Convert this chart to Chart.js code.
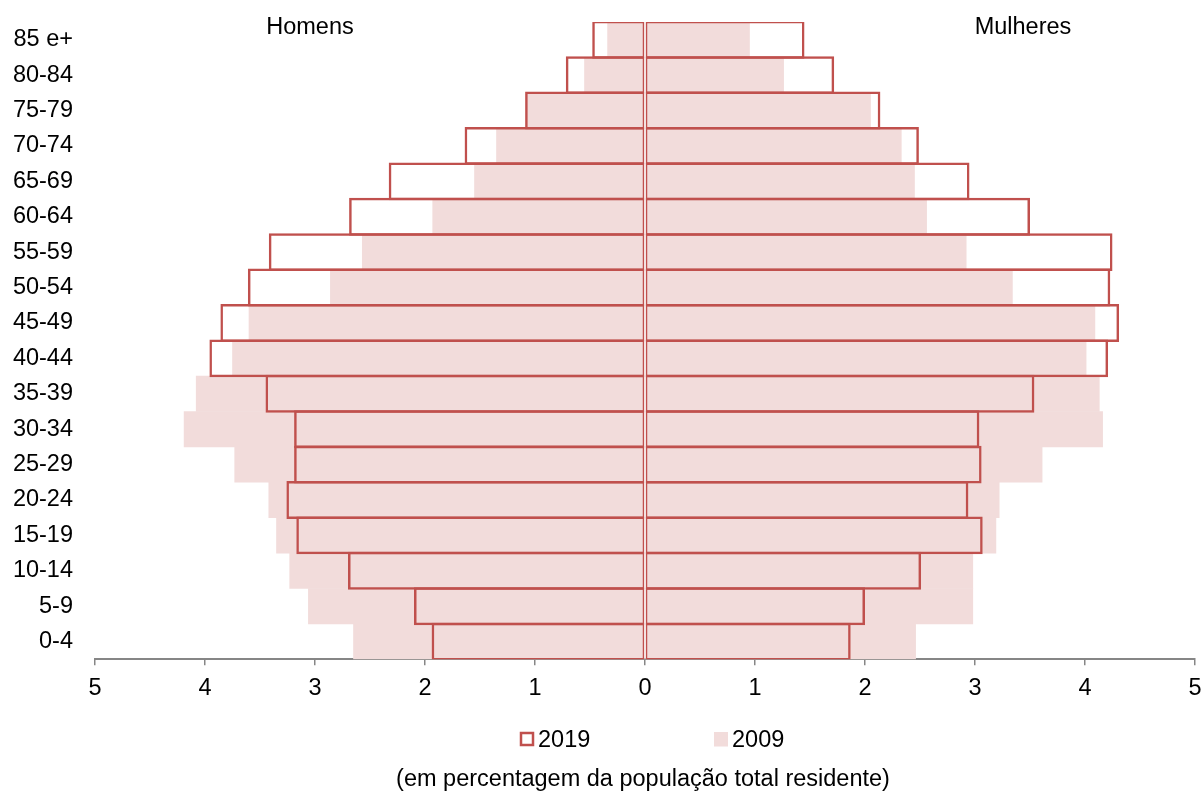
<!DOCTYPE html>
<html>
<head>
<meta charset="utf-8">
<script src="https://cdn.jsdelivr.net/npm/chart.js@4.4.0/dist/chart.umd.min.js"></script>
<style>
  body { margin: 0; background: #fff; }
  .wrap { width: 1203px; height: 791px; position: relative; }
</style>
</head>
<body>
<div class="wrap"><canvas id="pyramid"></canvas></div>
<script>
// age groups, top row first
const ageGroups = ["85 e+", "80-84", "75-79", "70-74", "65-69", "60-64", "55-59", "50-54", "45-49",
  "40-44", "35-39", "30-34", "25-29", "20-24", "15-19", "10-14", "5-9", "0-4"];

// % of total resident population
const men2019 = [0.48, 0.72, 1.09, 1.64, 2.33, 2.69, 3.42, 3.61, 3.86, 3.96, 3.45, 3.19, 3.19, 3.26, 3.17, 2.70, 2.10, 1.94];
const women2019 = [1.45, 1.72, 2.14, 2.49, 2.95, 3.50, 4.25, 4.23, 4.31, 4.21, 3.54, 3.04, 3.06, 2.94, 3.07, 2.51, 2.00, 1.87];
const men2009 = [0.34, 0.55, 1.08, 1.35, 1.55, 1.93, 2.57, 2.86, 3.60, 3.75, 4.08, 4.19, 3.73, 3.42, 3.35, 3.23, 3.06, 2.65];
const women2009 = [0.95, 1.26, 2.05, 2.33, 2.45, 2.56, 2.92, 3.34, 4.09, 4.01, 4.13, 4.16, 3.61, 3.22, 3.19, 2.98, 2.98, 2.46];

const sideLabels = ["Homens", "Mulheres"];
const legendLabels = ["2019", "2009"];
const caption = "(em percentagem da população total residente)";

const red = "#C0504D";
const pink = "#F2DCDB";
const fontFamily = "'Liberation Sans', Arial, sans-serif";
const fontSize = 23.5;

// side titles, legend and caption
const textPlugin = {
  id: "textPlugin",
  afterDraw(chart) {
    const ctx = chart.ctx;
    ctx.save();
    ctx.font = fontSize + "px " + fontFamily;
    ctx.fillStyle = "#000";
    ctx.textBaseline = "alphabetic";
    ctx.textAlign = "center";
    ctx.fillText(sideLabels[0], 310, 34);
    ctx.fillText(sideLabels[1], 1023, 34);

    ctx.textAlign = "left";
    ctx.lineWidth = 2.5;
    ctx.strokeStyle = red;
    ctx.strokeRect(521, 733, 12, 12);
    ctx.fillText(legendLabels[0], 538, 747);
    ctx.fillStyle = pink;
    ctx.fillRect(714, 732, 14, 14.5);
    ctx.fillStyle = "#000";
    ctx.fillText(legendLabels[1], 732, 747);

    ctx.textAlign = "center";
    ctx.fillText(caption, 643, 786);
    ctx.restore();
  }
};

const neg = (arr) => arr.map((v) => -v);

const ctx = document.getElementById("pyramid").getContext("2d");
const myChart = new Chart(ctx, {
  type: "bar",
  data: {
    labels: ageGroups,
    datasets: [
      {
        label: "2019 Homens",
        data: neg(men2019),
        backgroundColor: "rgba(0,0,0,0)",
        borderColor: red,
        borderWidth: { top: 2.5, bottom: 2.5, left: 2.5, right: 1.5 },
        borderSkipped: false,
        barPercentage: 1.07,
        categoryPercentage: 1,
        grouped: false,
      },
      {
        label: "2019 Mulheres",
        data: women2019,
        backgroundColor: "rgba(0,0,0,0)",
        borderColor: red,
        borderWidth: { top: 2.5, bottom: 2.5, left: 1.5, right: 2.5 },
        borderSkipped: false,
        barPercentage: 1.07,
        categoryPercentage: 1,
        grouped: false,
      },
      {
        label: "2009 Homens",
        data: neg(men2009),
        backgroundColor: pink,
        borderWidth: 0,
        barPercentage: 1,
        categoryPercentage: 1,
        grouped: false,
      },
      {
        label: "2009 Mulheres",
        data: women2009,
        backgroundColor: pink,
        borderWidth: 0,
        barPercentage: 1,
        categoryPercentage: 1,
        grouped: false,
      },
    ],
  },
  options: {
    indexAxis: "y",
    responsive: true,
    maintainAspectRatio: false,
    animation: false,
    layout: { padding: { top: 22, right: 8, bottom: 79.5, left: 0 } },
    plugins: {
      legend: { display: false },
      tooltip: { enabled: false },
    },
    scales: {
      x: {
        min: -5,
        max: 5,
        ticks: {
          stepSize: 1,
          padding: 9,
          color: "#000",
          font: { family: fontFamily, size: fontSize },
          maxRotation: 0,
          callback: (value) => Math.abs(value),
        },
        grid: {
          drawOnChartArea: false,
          drawTicks: true,
          tickLength: 6,
          color: "#868686",
          lineWidth: 1.5,
        },
        border: { display: true, color: "#868686", width: 2 },
        afterFit: (scale) => {
          scale.paddingLeft = 0;
          scale.paddingRight = 0;
        },
      },
      y: {
        ticks: {
          padding: 22,
          color: "#000",
          font: { family: fontFamily, size: fontSize },
        },
        grid: { display: false, drawTicks: false },
        border: { display: false },
        afterFit: (scale) => {
          scale.width = 95;
          scale.paddingTop = 0;
          scale.paddingBottom = 0;
        },
      },
    },
  },
  plugins: [textPlugin],
});
</script>
</body>
</html>
